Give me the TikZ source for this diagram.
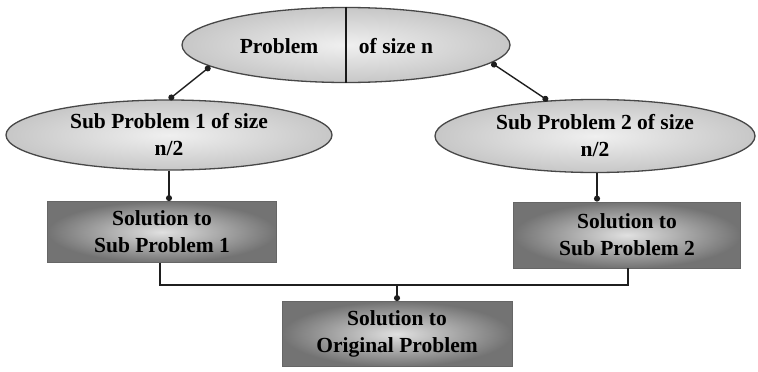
\documentclass[tikz,border=0pt]{standalone}
\usepackage{fontspec}
\setmainfont{Liberation Serif}
\usetikzlibrary{shapes.geometric,arrows.meta,calc}
\begin{document}
\begin{tikzpicture}[x=1pt,y=-1pt,
  txt/.style={font=\fontsize{21.5}{27}\selectfont\bfseries, align=center, text=black},
  bubble/.style={ellipse, draw=black!72, line width=1.3pt, inner sep=0pt,
                 inner color=black!6, outer color=black!22, txt},
  solbox/.style={rectangle, draw=black!60, line width=0.8pt, inner sep=0pt,
                 inner color=black!12, outer color=black!55, txt},
  link/.style={draw=black!88, line width=1.4pt},
  dots/.style={link, {Circle[length=6pt]}-{Circle[length=6pt]}},
  enddot/.style={link, -{Circle[length=6pt]}}
]
\useasboundingbox (0,0) rectangle (758,372);
\fill[white] (0,0) rectangle (758,372);

% problem of size n, split in two halves
\node[bubble, minimum width=328pt, minimum height=75pt] (top) at (346,45) {};
\draw[link, line width=2pt, black!90] (top.north) -- (top.south);
\node[txt] (pA) at (279,46) {Problem};
\node[txt] (pB) at (396,46) {of size n};

% the two sub problems
\node[bubble, minimum width=326pt, minimum height=70pt] (sub1) at (169,135)
  {Sub Problem 1 of size\\n/2};
\node[bubble, minimum width=320pt, minimum height=73pt] (sub2) at (595,136)
  {Sub Problem 2 of size\\n/2};

% their solutions and the combined one
\node[solbox, minimum width=229pt, minimum height=61pt] (sol1) at (162,232)
  {Solution to\\Sub Problem 1};
\node[solbox, minimum width=227pt, minimum height=66pt] (sol2) at (627,235)
  {Solution to\\Sub Problem 2};
\node[solbox, minimum width=230pt, minimum height=65pt] (fin) at (397,334)
  {Solution to\\Original Problem};

% divide
\draw[dots] (top.189) -- (sub1.90);
\draw[dots] (top.353) -- (sub2.143);
\draw[enddot] (sub1.south) -- (sol1.north -| sub1.south);
\draw[enddot] ($(sub2.south)+(2,0)$) coordinate (s2b) -- (sol2.north -| s2b);

% combine
\coordinate (jl) at (160,285);
\coordinate (jr) at (628,285);
\coordinate (jm) at (397,285);
\draw[link] (sol1.south -| jl) -- (jl) -- (jr) -- (sol2.south -| jr);
\draw[enddot] (jm) -- (fin.north);
\end{tikzpicture}
\end{document}
